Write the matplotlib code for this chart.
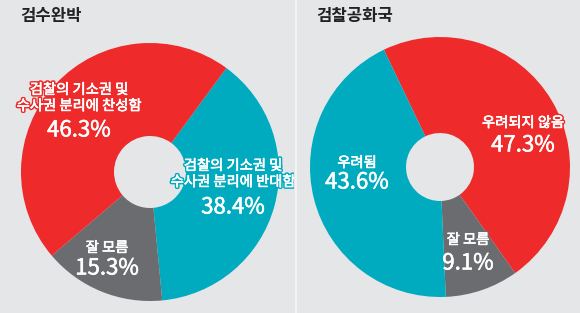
# 검수완박 / 검찰공화국 여론조사 도넛 차트
import matplotlib.pyplot as plt
import matplotlib.patheffects as pe
from matplotlib.lines import Line2D

plt.rcParams['font.family'] = ['Noto Sans CJK KR', 'DejaVu Sans']

# 데이터
left_title = "검수완박"
left_labels = ["검찰의 기소권 및\n수사권 분리에 반대함", "잘 모름", "검찰의 기소권 및\n수사권 분리에 찬성함"]
left_values = [38.4, 15.3, 46.3]

right_title = "검찰공화국"
right_labels = ["우려되지 않음", "잘 모름", "우려됨"]
right_values = [47.3, 9.1, 43.6]

RED = '#ee2a2a'
TEAL = '#00abbf'
GRAY = '#6b6c70'
BG = '#e5e6e8'

W, H = 580, 313
fig = plt.figure(figsize=(W / 100, H / 100), dpi=100, facecolor=BG)


def panel(x0, x1, title, labels, values, colors, start, center, radius, hole, label_pos):
    ax = fig.add_axes([x0 / W, 0, (x1 - x0) / W, 1])
    ax.set_facecolor(BG)
    cx, cy = center
    ax.pie(values, colors=colors, startangle=start, counterclock=False,
           center=(cx, H - cy), radius=radius, frame=True,
           wedgeprops=dict(width=radius - hole, linewidth=0))
    ax.set_xlim(x0, x1)
    ax.set_ylim(0, H)
    ax.set_aspect('equal')
    ax.axis('off')
    ax.text(x0 + 20, H - 16, title, fontsize=12, fontweight='bold', color='#222222',
            ha='left', va='center')
    for lab, val, col, (lx, ly, py) in zip(labels, values, colors, label_pos):
        # 색 테두리 + 살짝 굵게
        fx = [pe.withStroke(linewidth=2.6, foreground=col),
              pe.withStroke(linewidth=0.4, foreground='white')]
        ax.text(lx, H - ly, lab, fontsize=10.3, color='white',
                ha='center', va='center', linespacing=1.2, path_effects=fx, clip_on=True)
        fx2 = [pe.withStroke(linewidth=0.4, foreground='white')]
        ax.text(lx, H - py, f"{val}%", fontsize=16, color='white',
                ha='center', va='center', path_effects=fx2, clip_on=True)
    return ax


panel(0, 294, left_title, left_labels, left_values, [TEAL, GRAY, RED],
      53.7, (150, 172), 129, 36,
      [(233, 174, 207), (107, 248, 268), (79, 98, 130)])

panel(296, W, right_title, right_labels, right_values, [RED, GRAY, TEAL],
      115.6, (440, 167), 130, 34,
      [(523, 123, 145), (468, 240, 263), (357, 163, 182)])

fig.add_artist(Line2D([295.5 / W, 295.5 / W], [0, 1], color='#f6f6f6', linewidth=1.2))

fig.savefig('out.png', dpi=100, facecolor=BG)
